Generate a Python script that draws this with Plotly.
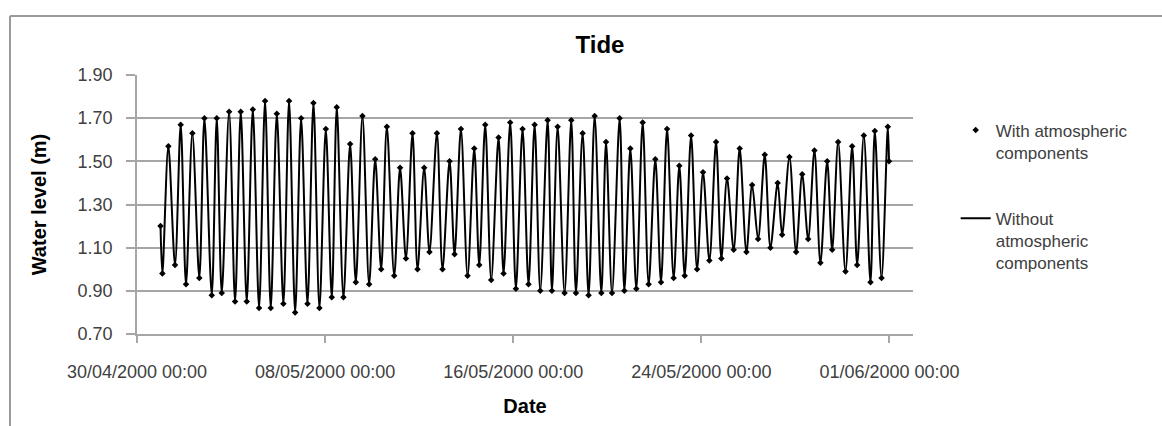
import pandas as pd
import plotly.graph_objects as go

# Read-off tidal extremes: hours after 30/04/2000 00:00 and water level (m)
hours = [24.0, 25.9, 32.0, 38.8, 44.6, 50.0, 56.5, 63.6, 68.8, 76.3, 81.4,
         86.5, 94.0, 100.1, 105.9, 112.0, 118.2, 124.6, 130.7, 136.5, 142.7,
         149.4, 155.2, 161.4, 167.5, 174.0, 180.1, 186.2, 192.7, 198.8, 203.9,
         210.7, 217.5, 223.3, 230.1, 236.9, 243.1, 249.2, 255.0, 262.5, 268.5,
         274.5, 281.2, 286.3, 293.1, 298.5, 306.1, 311.8, 319.0, 324.1, 330.6,
         337.4, 344.2, 349.3, 355.4, 361.5, 369.0, 374.1, 380.9, 386.7, 393.5,
         399.6, 405.8, 411.6, 419.1, 423.5, 429.3, 436.4, 443.2, 448.0, 454.8,
         460.9, 467.1, 473.9, 478.7, 484.8, 492.6, 497.4, 503.5, 509.6, 516.1,
         522.2, 529.0, 534.8, 541.0, 547.7, 553.5, 559.0, 565.5, 571.6, 577.7,
         584.2, 591.0, 596.4, 602.2, 609.0, 615.1, 622.0, 627.8, 633.9, 640.7,
         646.5, 653.9, 658.4, 665.9, 672.7, 678.9, 685.0, 691.4, 697.5, 704.4,
         709.5, 715.6, 723.1, 729.9, 735.0, 741.8, 748.6, 753.0, 759.9, 766.3,
         767.5]

level_without = [1.20, 0.98, 1.57, 1.02, 1.67, 0.93, 1.63, 0.96, 1.70, 0.88, 1.70,
                 0.89, 1.73, 0.85, 1.73, 0.85, 1.74, 0.82, 1.78, 0.82, 1.72,
                 0.84, 1.78, 0.80, 1.70, 0.84, 1.77, 0.82, 1.65, 0.87, 1.75,
                 0.87, 1.58, 0.94, 1.71, 0.93, 1.51, 1.00, 1.66, 0.97, 1.47,
                 1.05, 1.63, 1.00, 1.47, 1.08, 1.63, 1.00, 1.50, 1.07, 1.65,
                 0.97, 1.56, 1.02, 1.67, 0.95, 1.61, 0.98, 1.68, 0.91, 1.65,
                 0.93, 1.67, 0.90, 1.69, 0.90, 1.66, 0.89, 1.69, 0.89, 1.63,
                 0.88, 1.71, 0.89, 1.59, 0.89, 1.70, 0.90, 1.56, 0.91, 1.68,
                 0.93, 1.51, 0.94, 1.65, 0.96, 1.48, 0.97, 1.62, 1.00, 1.45,
                 1.04, 1.59, 1.05, 1.42, 1.09, 1.56, 1.08, 1.39, 1.14, 1.53,
                 1.10, 1.40, 1.16, 1.52, 1.08, 1.44, 1.14, 1.55, 1.03, 1.50,
                 1.09, 1.59, 0.99, 1.57, 1.02, 1.62, 0.94, 1.64, 0.96, 1.66,
                 1.50]

# at this resolution the two series coincide
level_with = list(level_without)

start = pd.Timestamp("2000-04-30 00:00")
dates = [start + pd.Timedelta(hours=h) for h in hours]

y_ticks = [0.70, 0.90, 1.10, 1.30, 1.50, 1.70, 1.90]

GRID = "#a6a6a6"
TXT = "#404040"
FONT = "Liberation Sans"
BORDER = "#9a9a9a"

fig = go.Figure()
fig.add_trace(go.Scatter(
    x=dates, y=level_with, mode="markers",
    name="With atmospheric<br>components", legendgroup="a",
    marker=dict(symbol="diamond", size=5, color="black"),
))
fig.add_trace(go.Scatter(
    x=dates, y=level_without, mode="lines",
    name="Without<br>atmospheric<br>components", legendgroup="b",
    line=dict(color="black", width=2, shape="spline", smoothing=0.9),
))

# chart-area frame: only the top and left edges fall inside the picture
px_x = lambda p: (p - 137) / 776
px_y = lambda p: (347 - p) / 272

fig.update_layout(
    width=1162, height=426, autosize=False,
    margin=dict(l=137, r=249, t=75, b=79),
    paper_bgcolor="white", plot_bgcolor="white",
    font=dict(family=FONT, color=TXT, size=18),
    title=dict(text="<b>Tide</b>", x=600 / 1162, xref="container", xanchor="center",
               y=1 - 45 / 426, yref="container", yanchor="middle",
               font=dict(family=FONT, size=24, color="black")),
    showlegend=True,
    legend=dict(x=1.055, xanchor="left", y=0.855, yanchor="top",
                valign="top", tracegroupgap=41,
                font=dict(family=FONT, size=17, color=TXT),
                bgcolor="rgba(0,0,0,0)"),
    xaxis=dict(
        type="date",
        range=["2000-04-30 00:00", "2000-06-02 00:00"],
        tick0="2000-04-30 00:00", dtick=8 * 86400000,
        tickformat="%d/%m/%Y %H:%M",
        showgrid=False, showline=True, linecolor=GRID, linewidth=1.5,
        ticks="outside", ticklen=7, tickcolor=GRID, tickwidth=1.5,
        ticklabelstandoff=14,
        tickfont=dict(family=FONT, size=18, color=TXT),
        title=dict(text="<b>Date</b>", standoff=18,
                   font=dict(family=FONT, size=20, color="black")),
        zeroline=False,
    ),
    yaxis=dict(
        range=[0.70, 1.90], tickvals=y_ticks, tickformat=".2f",
        showgrid=True, gridcolor=GRID, gridwidth=1.5,
        showline=True, linecolor=GRID, linewidth=1.5,
        ticks="outside", ticklen=9, tickcolor=GRID, tickwidth=1.5,
        ticklabelstandoff=10,
        tickfont=dict(family=FONT, size=18, color=TXT),
        title=dict(text="<b>Water level (m)</b>", standoff=26,
                   font=dict(family=FONT, size=20, color="black")),
        zeroline=False,
    ),
    shapes=[
        dict(type="line", xref="paper", yref="paper",
             x0=px_x(10), x1=px_x(1200), y0=px_y(13), y1=px_y(13),
             line=dict(color=BORDER, width=2), layer="below"),
        dict(type="line", xref="paper", yref="paper",
             x0=px_x(10), x1=px_x(10), y0=px_y(13), y1=px_y(460),
             line=dict(color=BORDER, width=2), layer="below"),
    ],
)

fig.write_html(
    "out.html",
    config={"displayModeBar": False, "responsive": False},
    post_script="document.body.style.margin='0';document.body.style.overflow='hidden';",
)
